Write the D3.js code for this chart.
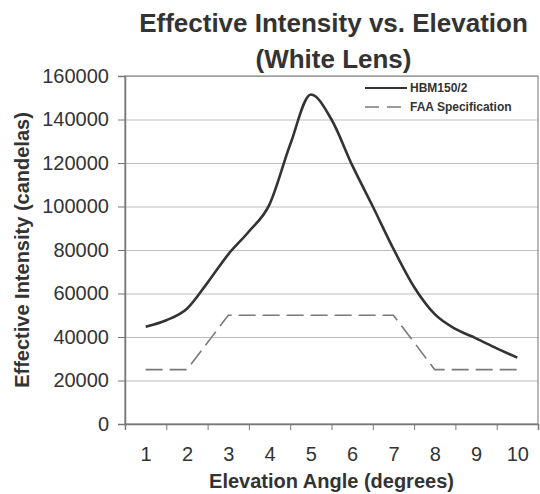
<!DOCTYPE html>
<html>
<head>
<meta charset="utf-8">
<script src="https://cdn.jsdelivr.net/npm/d3@7"></script>
<style>
  body { margin: 0; background: #fff; }
  text { font-family: "Liberation Sans", Arial, sans-serif; fill: #333; }
</style>
</head>
<body>
<div id="chart"></div>
<script>
// readings, every half degree
var hbmAngles = [1, 1.5, 2, 2.5, 3, 3.5, 4, 4.5, 5, 5.5, 6, 6.5, 7, 7.5, 8, 8.5, 9, 9.5, 10];
var hbmValues = [44700, 47700, 53000, 65000, 78000, 88500, 101000, 128500, 151500, 140000,
                 119000, 100000, 80500, 63000, 50500, 43700, 39400, 34800, 30500];

var faaAngles = [1, 2, 3, 4, 5, 6, 7, 8, 9, 10];
var faaValues = [25000, 25000, 50000, 50000, 50000, 50000, 50000, 25000, 25000, 25000];

var yTicks = [0, 20000, 40000, 60000, 80000, 100000, 120000, 140000, 160000];
var xLabels = [1, 2, 3, 4, 5, 6, 7, 8, 9, 10];

var margin = {top: 76, right: 2, bottom: 70, left: 125},
    width = 540 - margin.left - margin.right,
    height = 494 - margin.top - margin.bottom;

var root = d3.select("#chart")
  .append("svg")
  .attr("width", 540)
  .attr("height", 494);

var svg = root.append("g")
  .attr("transform", "translate(" + margin.left + "," + margin.top + ")");

var x = d3.scaleLinear().domain([0.5, 10.5]).range([0, width]);
var y = d3.scaleLinear().domain([0, 160000]).range([height, 0]);

// gridlines
svg.append("g")
  .call(d3.axisLeft(y).tickValues(yTicks).tickSize(-width).tickFormat(""))
  .call(g => g.select(".domain").remove())
  .call(g => g.selectAll("line").attr("stroke", "#bdbdbd").attr("stroke-width", 1.2));

// plot frame
svg.append("rect")
  .attr("width", width)
  .attr("height", height)
  .attr("fill", "none")
  .attr("stroke", "#8a8a8a")
  .attr("stroke-width", 1.2);

// y axis
svg.append("g")
  .call(d3.axisLeft(y).tickValues(yTicks).tickSize(7).tickPadding(9).tickFormat(d3.format("d")))
  .call(g => g.select(".domain").attr("stroke", "#777").attr("stroke-width", 1.5))
  .call(g => g.selectAll("line").attr("stroke", "#777"))
  .call(g => g.selectAll("text").attr("font-size", 20).attr("fill", "#333")
                .attr("font-family", "Liberation Sans, Arial, sans-serif"));

// x axis: tick marks between categories, labels on them
svg.append("g")
  .attr("transform", "translate(0," + height + ")")
  .call(d3.axisBottom(x).tickValues(d3.range(0.5, 10.6, 1)).tickSize(6).tickFormat(""))
  .call(g => g.select(".domain").attr("stroke", "#777").attr("stroke-width", 1.5))
  .call(g => g.selectAll("line").attr("stroke", "#777"));

svg.append("g")
  .attr("transform", "translate(0," + height + ")")
  .call(d3.axisBottom(x).tickValues(xLabels).tickSize(0).tickPadding(23).tickFormat(d3.format("d")))
  .call(g => g.select(".domain").remove())
  .call(g => g.selectAll("text").attr("font-size", 20).attr("fill", "#333")
                .attr("font-family", "Liberation Sans, Arial, sans-serif"));

// FAA spec (dashed)
svg.append("path")
  .datum(faaAngles.map((a, i) => [a, faaValues[i]]))
  .attr("fill", "none")
  .attr("stroke", "#7a7a7a")
  .attr("stroke-width", 1.6)
  .attr("stroke-dasharray", "17,7")
  .attr("d", d3.line().x(d => x(d[0])).y(d => y(d[1])));

// HBM150/2 (solid)
svg.append("path")
  .datum(hbmAngles.map((a, i) => [a, hbmValues[i]]))
  .attr("fill", "none")
  .attr("stroke", "#333")
  .attr("stroke-width", 2.6)
  .attr("d", d3.line().curve(d3.curveMonotoneX).x(d => x(d[0])).y(d => y(d[1])));

// legend
var legend = svg.append("g").attr("transform", "translate(240,12)");
legend.append("line").attr("x1", 0).attr("x2", 42).attr("y1", 0).attr("y2", 0)
  .attr("stroke", "#333").attr("stroke-width", 2.2);
legend.append("text").attr("x", 45).attr("dy", "0.35em")
  .attr("font-size", 12).attr("font-weight", "bold").text("HBM150/2");
legend.append("line").attr("x1", 0).attr("x2", 40).attr("y1", 19).attr("y2", 19)
  .attr("stroke", "#7a7a7a").attr("stroke-width", 1.6).attr("stroke-dasharray", "14,8");
legend.append("text").attr("x", 45).attr("y", 19).attr("dy", "0.35em")
  .attr("font-size", 12).attr("font-weight", "bold").text("FAA Specification");

// titles
var cx = margin.left + width / 2 + 2;
root.append("text").attr("x", cx).attr("y", 32)
  .attr("text-anchor", "middle").attr("font-size", 26).attr("font-weight", "bold")
  .text("Effective Intensity vs. Elevation");
root.append("text").attr("x", cx).attr("y", 68)
  .attr("text-anchor", "middle").attr("font-size", 26).attr("font-weight", "bold")
  .text("(White Lens)");

root.append("text").attr("x", cx - 2).attr("y", 488)
  .attr("text-anchor", "middle").attr("font-size", 20).attr("font-weight", "bold")
  .text("Elevation Angle (degrees)");

root.append("text")
  .attr("transform", "translate(29," + (margin.top + height / 2) + ") rotate(-90)")
  .attr("text-anchor", "middle").attr("font-size", 20).attr("font-weight", "bold")
  .text("Effective Intensity (candelas)");
</script>
</body>
</html>
